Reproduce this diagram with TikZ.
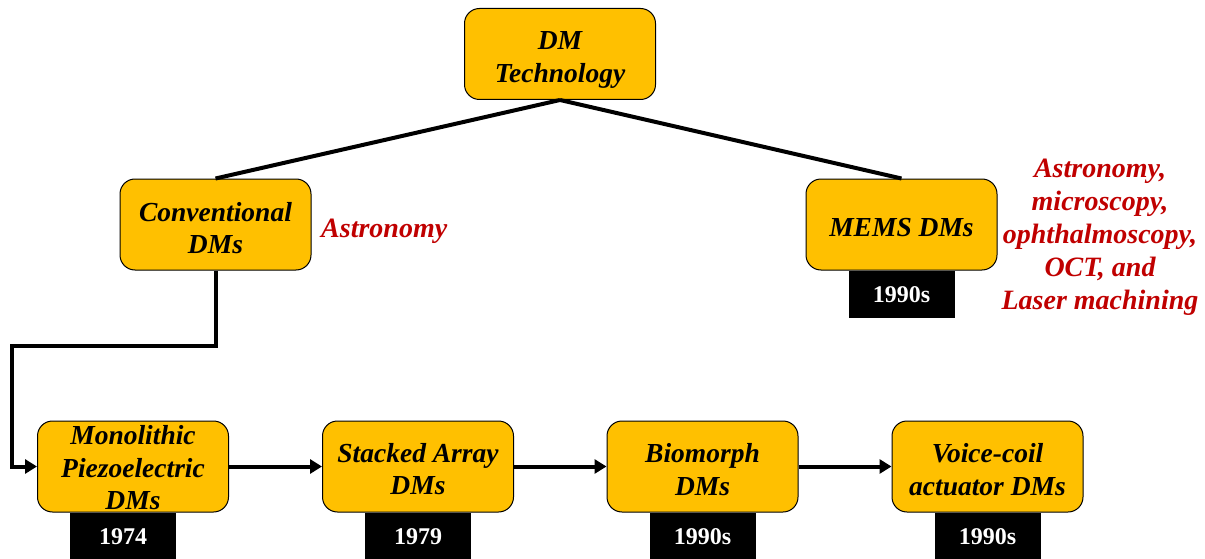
\documentclass[tikz,border=0pt]{standalone}
\usepackage{fontspec}
\setmainfont{Liberation Serif}
\usetikzlibrary{arrows.meta}
\definecolor{boxfill}{HTML}{FFC000}
\definecolor{appred}{HTML}{C00000}
\tikzset{
  dmbox/.style={draw=black, line width=1pt, fill=boxfill, rounded corners=15pt,
    minimum width=191pt, minimum height=91pt, inner sep=0pt},
  dmtext/.style={align=center, inner sep=0pt,
    font=\fontsize{27.5}{32.5}\selectfont\bfseries\itshape},
  yearbox/.style={fill=black, text=white, minimum width=106pt, minimum height=47pt,
    inner sep=0pt, anchor=north, font=\fontsize{24}{28}\selectfont\bfseries},
  conn/.style={line width=4pt},
  arr/.style={line width=4pt, -{Triangle[length=12pt,width=14pt]}},
  apptext/.style={text=appred, align=center, inner sep=0pt,
    font=\fontsize{28}{33}\selectfont\bfseries\itshape}
}
\begin{document}
\begin{tikzpicture}[x=1pt,y=-1pt]
\useasboundingbox (0,0) rectangle (1205,559);
\node[dmbox, label={[dmtext, yshift=-6pt]center:DM\\Technology}] (dm) at (560,54) {};
\node[dmbox, label={[dmtext, yshift=-3.5pt]center:Conventional\\DMs}] (conv) at (215.5,224.5) {};
\node[dmbox, label={[dmtext, yshift=-3pt]center:MEMS DMs}] (mems) at (901.5,224.5) {};
\node[yearbox] (ymems) at (mems.south) {1990s};
\node[dmbox, label={[dmtext, yshift=-1.5pt]center:Monolithic\\Piezoelectric\\DMs}] (mono) at (133,466.5) {};
\node[dmbox, label={[dmtext, yshift=-2.5pt]center:Stacked Array\\DMs}] (stack) at (418,466.5) {};
\node[dmbox, label={[dmtext, yshift=-3pt]center:Biomorph\\DMs}] (bio) at (702.5,466.5) {};
\node[dmbox, label={[dmtext, yshift=-3pt]center:Voice-coil\\actuator DMs}] (voice) at (987.5,466.5) {};
\node[yearbox, xshift=-10pt] (ymono) at (mono.south) {1974};
\node[yearbox] (ystack) at (stack.south) {1979};
\node[yearbox] (ybio) at (bio.south) {1990s};
\node[yearbox] (yvoice) at (voice.south) {1990s};
\node[apptext, anchor=west] (appconv) at (321,231) {Astronomy};
\node[apptext] (appmems) at (1100,237) {Astronomy,\\microscopy,\\ophthalmoscopy,\\OCT, and\\Laser machining};
\draw[conn] (dm.south) -- (conv.north);
\draw[conn] (dm.south) -- (mems.north);
\coordinate (c1) at (215.5,346);
\coordinate (c2) at (12,346);
\draw[arr, line join=miter] (conv.south) -- (c1) -- (c2) |- (mono.west);
\draw[arr] (mono.east) -- (stack.west);
\draw[arr] (stack.east) -- (bio.west);
\draw[arr] (bio.east) -- (voice.west);
\end{tikzpicture}
\end{document}
